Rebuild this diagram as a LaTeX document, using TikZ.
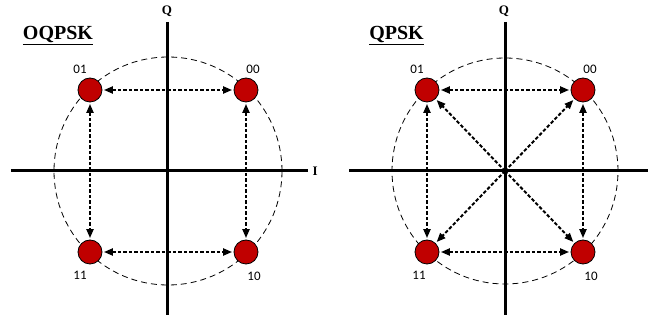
\documentclass[tikz,border=0pt]{standalone}
\usepackage{fontspec}
\setmainfont{Liberation Serif}
\newfontfamily\bitsfont{Carlito}
\usetikzlibrary{arrows.meta,positioning}
\definecolor{dotred}{RGB}{192,0,0}

\begin{document}
\begin{tikzpicture}[x=1pt, y=1pt, >={Triangle[length=9pt,width=7pt]},
    axis/.style={line width=3pt},
    ring/.style={dash pattern=on 6pt off 4pt, line width=0.8pt},
    dot/.style={circle, draw, fill=dotred, minimum size=24pt, inner sep=0pt, line width=0.8pt},
    hop/.style={line width=2pt, dash pattern=on 3.5pt off 2pt, shorten <=1.5pt, shorten >=1.5pt},
    bits/.style={inner sep=1pt, font=\bitsfont\fontsize{13}{13}\selectfont},
    title/.style={font=\bfseries\fontsize{20}{20}\selectfont},
    axlabel/.style={font=\bfseries\fontsize{13}{13}\selectfont}]
  \useasboundingbox (-168,-152) rectangle (480,171);

  % left: OQPSK
  \coordinate (lc) at (0,0);
  \coordinate (lqt) at (0,149);
  \coordinate (lqb) at (0,-144);
  \coordinate (lil) at (-157,0);
  \coordinate (lir) at (140,0);
  \draw[axis] (lqt) -- (lqb);
  \draw[axis] (lil) -- (lir);
  \node[axlabel] (lq) at (-1,160) {Q};
  \node[axlabel, right=1pt of lir] (li) {I};
  \draw[ring] (lc) circle (114);
  \node[title] (lt) at (-110,135) {\underline{OQPSK}};
  \node[dot] (l01) at (-78,81) {};
  \node[dot] (l00) at (78,81) {};
  \node[dot] (l11) at (-78,-81) {};
  \node[dot] (l10) at (78,-81) {};
  \node[bits, above=3pt of l01, xshift=-10pt] (lb01) {01};
  \node[bits, above=3pt of l00, xshift=7pt] (lb00) {00};
  \node[bits, below=6pt of l11, xshift=-10pt] (lb11) {11};
  \node[bits, below=6pt of l10, xshift=8pt] (lb10) {10};
  \draw[hop, <->] (l01) -- (l00);
  \draw[hop, <->] (l11) -- (l10);
  \draw[hop, <->] (l01) -- (l11);
  \draw[hop, <->] (l00) -- (l10);

  % right: QPSK
  \coordinate (rc) at (337,0);
  \coordinate (rqt) at (337,149);
  \coordinate (rqb) at (337,-144);
  \coordinate (ril) at (181,0);
  \coordinate (rir) at (480,0);
  \draw[axis] (rqt) -- (rqb);
  \draw[axis] (ril) -- (rir);
  \node[axlabel] (rq) at (336,160) {Q};
  \draw[ring] (rc) circle (113);
  \node[title] (rt) at (228.5,135) {\underline{QPSK}};
  \node[dot] (r01) at (259,81) {};
  \node[dot] (r00) at (415,81) {};
  \node[dot] (r11) at (259,-81) {};
  \node[dot] (r10) at (415,-81) {};
  \node[bits, above=3pt of r01, xshift=-10pt] (rb01) {01};
  \node[bits, above=3pt of r00, xshift=7pt] (rb00) {00};
  \node[bits, below=6pt of r11, xshift=-8pt] (rb11) {11};
  \node[bits, below=6pt of r10, xshift=8pt] (rb10) {10};
  \draw[hop, <->] (r01) -- (r00);
  \draw[hop, <->] (r11) -- (r10);
  \draw[hop, <->] (r01) -- (r11);
  \draw[hop, <->] (r00) -- (r10);
  \draw[hop, ->, shorten <=0pt] (rc) -- (r00);
  \draw[hop, ->, shorten <=0pt] (rc) -- (r01);
  \draw[hop, ->, shorten <=0pt] (rc) -- (r11);
  \draw[hop, ->, shorten <=0pt] (rc) -- (r10);
\end{tikzpicture}
\end{document}
